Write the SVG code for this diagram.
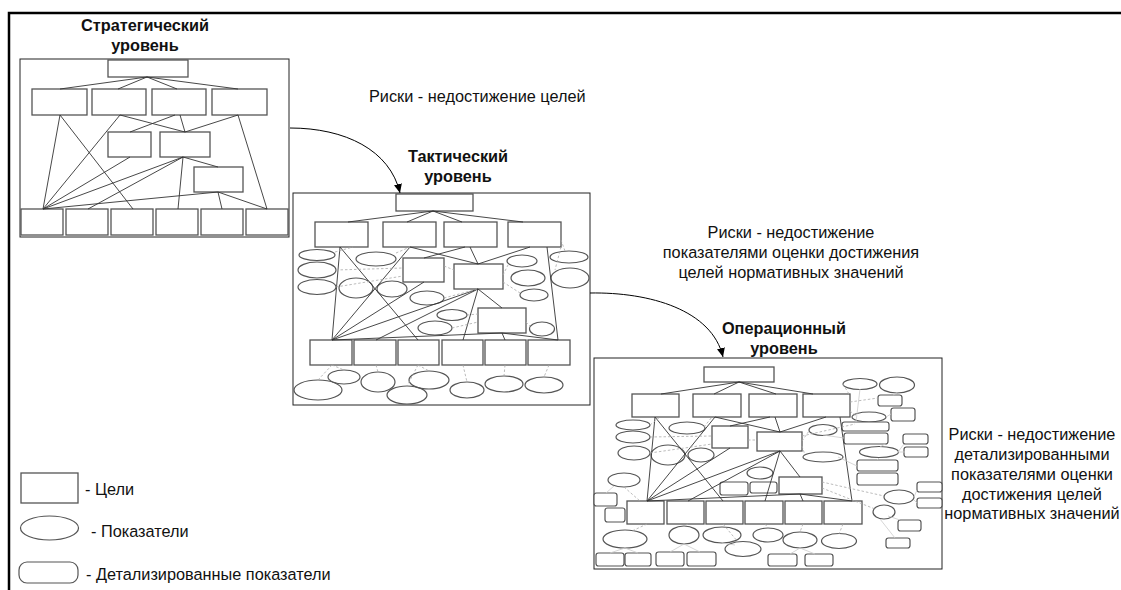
<svg xmlns="http://www.w3.org/2000/svg" width="1121" height="590" viewBox="0 0 1121 590">
<style>
.bg{fill:#fff}
.frame{fill:none;stroke:#000;stroke-width:2.5}
.panel{fill:#fff;stroke:#222;stroke-width:1}
.g{fill:#fff;stroke:#555;stroke-width:1.3}
.i{fill:none;stroke:#555;stroke-width:1.2}
.d{fill:#fff;stroke:#555;stroke-width:1.2}
.l{stroke:#333;stroke-width:0.9;fill:none}
.dl{stroke:#aaa;stroke-width:0.8;stroke-dasharray:2.5 2;fill:none}
.sl{stroke:#ccc;stroke-width:0.8;fill:none}
.arr{stroke:#000;stroke-width:1;fill:none}
.t{font-family:"Liberation Sans",Arial,sans-serif;font-size:16.3px;fill:#111}
.tb{font-family:"Liberation Sans",Arial,sans-serif;font-size:16.3px;font-weight:bold;fill:#111;text-anchor:middle}
.tc{text-anchor:middle}
</style>
<defs>
<marker id="ah" markerWidth="10" markerHeight="10" refX="9" refY="5" orient="auto" markerUnits="userSpaceOnUse">
<path d="M0,1 L9,5 L0,9 Z" fill="#000"/>
</marker>
</defs>
<rect class="bg" x="0" y="0" width="1121" height="590"/>
<path class="frame" d="M9,590 V13 H1121"/>

<!-- Strategic -->
<g id="strategic">
<rect class="panel" x="20" y="59" width="269" height="178"/>
<text class="tb" x="145" y="31">Стратегический</text>
<text class="tb" x="145" y="51">уровень</text>
<g id="s0"><rect class="g" x="108" y="60" width="80" height="17"/></g>
<g id="s1"><rect class="g" x="32" y="89" width="55" height="26"/></g>
<g id="s2"><rect class="g" x="92" y="89" width="54" height="26"/></g>
<g id="s3"><rect class="g" x="152" y="89" width="54" height="26"/></g>
<g id="s4"><rect class="g" x="212" y="89" width="55" height="26"/></g>
<g id="s5"><rect class="g" x="108" y="132" width="43" height="25"/></g>
<g id="s6"><rect class="g" x="160" y="132" width="50" height="25"/></g>
<g id="s7"><rect class="g" x="194" y="167" width="49" height="25"/></g>
<g id="sb1"><rect class="g" x="21" y="209" width="42" height="26"/></g>
<g id="sb2"><rect class="g" x="66" y="209" width="42" height="26"/></g>
<g id="sb3"><rect class="g" x="111" y="209" width="42" height="26"/></g>
<g id="sb4"><rect class="g" x="156" y="209" width="42" height="26"/></g>
<g id="sb5"><rect class="g" x="201" y="209" width="42" height="26"/></g>
<g id="sb6"><rect class="g" x="246" y="209" width="42" height="26"/></g>
</g>

<!-- Tactical -->
<g id="tactical">
<rect class="panel" x="293" y="193" width="297" height="212"/>
<g id="t0"><rect class="g" x="396" y="194" width="77" height="17"/></g>
<g id="t1"><rect class="g" x="315" y="222" width="53" height="25"/></g>
<g id="t2"><rect class="g" x="383" y="222" width="53" height="25"/></g>
<g id="t3"><rect class="g" x="444" y="222" width="53" height="25"/></g>
<g id="t4"><rect class="g" x="508" y="222" width="53" height="25"/></g>
<g id="t5"><rect class="g" x="403" y="258" width="41" height="24"/></g>
<g id="t6"><rect class="g" x="454" y="264" width="49" height="25"/></g>
<g id="t7"><rect class="g" x="478" y="308" width="48" height="25"/></g>
<g id="tb1"><rect class="g" x="310" y="340" width="42" height="25"/></g>
<g id="tb2"><rect class="g" x="354" y="340" width="42" height="25"/></g>
<g id="tb3"><rect class="g" x="398" y="340" width="41" height="25"/></g>
<g id="tb4"><rect class="g" x="442" y="340" width="41" height="25"/></g>
<g id="tb5"><rect class="g" x="485" y="340" width="41" height="25"/></g>
<g id="tb6"><rect class="g" x="528" y="340" width="42" height="25"/></g>
<g id="te1"><ellipse class="i" cx="317" cy="255" rx="18" ry="5.5"/></g>
<g id="te2"><ellipse class="i" cx="317" cy="270" rx="19" ry="8"/></g>
<g id="te3"><ellipse class="i" cx="317" cy="287" rx="19" ry="7.5"/></g>
<g id="te4"><ellipse class="i" cx="376" cy="259" rx="20" ry="7"/></g>
<g id="te5"><ellipse class="i" cx="356" cy="288" rx="17" ry="10"/></g>
<g id="te6"><ellipse class="i" cx="392" cy="289" rx="15" ry="8"/></g>
<g id="te7"><ellipse class="i" cx="427" cy="298" rx="17" ry="7"/></g>
<g id="te8"><ellipse class="i" cx="522" cy="261" rx="15" ry="6"/></g>
<g id="te9"><ellipse class="i" cx="528" cy="278" rx="17" ry="8"/></g>
<g id="te10"><ellipse class="i" cx="534" cy="295" rx="14" ry="6"/></g>
<g id="te11"><ellipse class="i" cx="569" cy="257" rx="19" ry="6"/></g>
<g id="te12"><ellipse class="i" cx="570" cy="278" rx="19" ry="10"/></g>
<g id="te13"><ellipse class="i" cx="452" cy="315" rx="15" ry="5.5"/></g>
<g id="te14"><ellipse class="i" cx="435" cy="328" rx="17" ry="7"/></g>
<g id="te15"><ellipse class="i" cx="542" cy="329" rx="12.5" ry="7"/></g>
<g id="te16"><ellipse class="i" cx="318" cy="390" rx="24" ry="10"/></g>
<g id="te17"><ellipse class="i" cx="344" cy="377" rx="16" ry="7"/></g>
<g id="te18"><ellipse class="i" cx="378" cy="382" rx="17" ry="10"/></g>
<g id="te19"><ellipse class="i" cx="407" cy="395" rx="20" ry="9"/></g>
<g id="te20"><ellipse class="i" cx="429" cy="380" rx="20" ry="9"/></g>
<g id="te21"><ellipse class="i" cx="467" cy="390" rx="17" ry="8"/></g>
<g id="te22"><ellipse class="i" cx="504" cy="384" rx="19" ry="8"/></g>
<g id="te23"><ellipse class="i" cx="544" cy="385" rx="19" ry="8"/></g>
</g>

<!-- Operational -->
<g id="operational">
<rect class="panel" x="594" y="358" width="348" height="211"/>
<g id="o0"><rect class="g" x="704" y="367" width="70" height="15"/></g>
<g id="o1"><rect class="g" x="632" y="394" width="47" height="23"/></g>
<g id="o2"><rect class="g" x="693" y="394" width="48" height="23"/></g>
<g id="o3"><rect class="g" x="749" y="394" width="48" height="23"/></g>
<g id="o4"><rect class="g" x="803" y="394" width="47" height="23"/></g>
<g id="o5"><rect class="g" x="712" y="426" width="36" height="22"/></g>
<g id="o6"><rect class="g" x="757" y="432" width="45" height="19"/></g>
<g id="o7"><rect class="g" x="779" y="477" width="43" height="17"/></g>
<g id="ob1"><rect class="g" x="627" y="501" width="37" height="23"/></g>
<g id="ob2"><rect class="g" x="667" y="501" width="37" height="23"/></g>
<g id="ob3"><rect class="g" x="706" y="501" width="37" height="23"/></g>
<g id="ob4"><rect class="g" x="745" y="501" width="38" height="23"/></g>
<g id="ob5"><rect class="g" x="785" y="501" width="37" height="23"/></g>
<g id="ob6"><rect class="g" x="824" y="501" width="38" height="23"/></g>
<g id="oe1"><ellipse class="i" cx="633" cy="425" rx="17" ry="5"/></g>
<g id="oe2"><ellipse class="i" cx="633" cy="437" rx="17" ry="6"/></g>
<g id="oe3"><ellipse class="i" cx="634" cy="453" rx="16" ry="7"/></g>
<g id="oe4"><ellipse class="i" cx="687" cy="428" rx="18" ry="6"/></g>
<g id="oe5"><ellipse class="i" cx="668" cy="455" rx="17" ry="10"/></g>
<g id="oe6"><ellipse class="i" cx="701" cy="455" rx="13" ry="7"/></g>
<g id="oe7"><ellipse class="i" cx="860" cy="384" rx="17" ry="5.5"/></g>
<g id="oe8"><ellipse class="i" cx="897" cy="385" rx="17.5" ry="8"/></g>
<g id="oe9"><ellipse class="i" cx="869" cy="417" rx="17" ry="5"/></g>
<g id="oe10"><ellipse class="i" cx="823" cy="430" rx="14" ry="5.5"/></g>
<g id="oe11"><ellipse class="i" cx="879" cy="452" rx="19.5" ry="5.5"/></g>
<g id="oe12"><ellipse class="i" cx="823" cy="457" rx="20" ry="5"/></g>
<g id="oe13"><ellipse class="i" cx="760" cy="473" rx="13" ry="6"/></g>
<g id="oe14"><ellipse class="i" cx="624" cy="480" rx="16" ry="7"/></g>
<g id="oe15"><ellipse class="i" cx="899" cy="497" rx="15" ry="7"/></g>
<g id="oe16"><ellipse class="i" cx="884" cy="512" rx="11" ry="7"/></g>
<g id="oe17"><ellipse class="i" cx="625" cy="539" rx="22" ry="9"/></g>
<g id="oe18"><ellipse class="i" cx="684" cy="535" rx="15" ry="9"/></g>
<g id="oe19"><ellipse class="i" cx="722" cy="535" rx="19" ry="8"/></g>
<g id="oe20"><ellipse class="i" cx="743" cy="549" rx="18" ry="7.5"/></g>
<g id="oe21"><ellipse class="i" cx="768" cy="535" rx="15" ry="7"/></g>
<g id="oe22"><ellipse class="i" cx="800" cy="540" rx="17" ry="8"/></g>
<g id="oe23"><ellipse class="i" cx="839" cy="541" rx="17.5" ry="7.5"/></g>
<g id="od1"><rect class="d" x="878" y="395" width="24" height="11" rx="2.5"/></g>
<g id="od2"><rect class="d" x="891" y="408" width="24" height="13" rx="2.5"/></g>
<g id="od3"><rect class="d" x="842" y="422" width="47" height="9" rx="2.5"/></g>
<g id="od4"><rect class="d" x="844" y="433" width="44" height="11" rx="2.5"/></g>
<g id="od5"><rect class="d" x="903" y="434" width="25" height="10" rx="2.5"/></g>
<g id="od6"><rect class="d" x="904" y="447" width="24" height="10" rx="2.5"/></g>
<g id="od7"><rect class="d" x="857" y="460" width="41" height="11" rx="2.5"/></g>
<g id="od8"><rect class="d" x="857" y="473" width="41" height="12" rx="2.5"/></g>
<g id="od9"><rect class="d" x="917" y="482" width="25" height="10" rx="2.5"/></g>
<g id="od10"><rect class="d" x="917" y="498" width="25" height="10" rx="2.5"/></g>
<g id="od11"><rect class="d" x="898" y="520" width="23" height="11" rx="2.5"/></g>
<g id="od12"><rect class="d" x="886" y="538" width="24" height="10" rx="2.5"/></g>
<g id="od13"><rect class="d" x="768" y="554" width="29" height="12" rx="2.5"/></g>
<g id="od14"><rect class="d" x="805" y="554" width="28" height="12" rx="2.5"/></g>
<g id="od15"><rect class="d" x="594" y="493" width="23" height="13" rx="2.5"/></g>
<g id="od16"><rect class="d" x="605" y="508" width="20" height="14" rx="2.5"/></g>
<g id="od17"><rect class="d" x="720" y="482" width="28" height="13" rx="2.5"/></g>
<g id="od18"><rect class="d" x="750" y="482" width="27" height="11" rx="2.5"/></g>
<g id="od19"><rect class="d" x="596" y="553" width="28" height="13" rx="2.5"/></g>
<g id="od20"><rect class="d" x="625" y="553" width="26" height="13" rx="2.5"/></g>
<g id="od21"><rect class="d" x="656" y="552" width="28" height="14" rx="2.5"/></g>
<g id="od22"><rect class="d" x="687" y="552" width="29" height="14" rx="2.5"/></g>
</g>

<!-- Connectors -->
<g id="connectors">
<path class="l" d="M147,77 L60,89 M147,77 L118,89 M147,77 L177,89 M147,77 L238,89
M60,115 L43,209 M60,115 L133,209 M120,115 L43,209 M120,115 L185,132
M175,115 L130,132 M180,115 L185,132 M238,115 L185,132 M238,115 L267,209
M130,157 L43,209 M183,157 L43,209 M183,157 L88,209 M183,157 L178,209 M183,157 L218,167
M218,192 L43,209 M218,192 L222,209 M218,192 L267,209"/>
<path class="l" d="M433,211 L348,222 M433,211 L407,222 M433,211 L462,222 M433,211 L523,222
M340,247 L332,340 M340,247 L418,340 M410,247 L332,340 M410,247 L478,264
M465,247 L424,258 M470,247 L478,264 M530,247 L478,264 M547,247 L558,340
M424,282 L332,340 M478,289 L332,340 M478,289 L376,340 M478,289 L463,340 M478,289 L502,308
M502,333 L332,340 M502,333 L505,340 M502,333 L558,340"/>
<path class="dl" d="M335,252 L353,247 M336,270 L403,268 M336,287 L403,276 M396,253 L410,247 M444,298 L478,289
M503,275 L509,263 M503,282 L520,293 M561,240 L565,251 M561,247 L555,270 M467,315 L478,314 M452,328 L478,322
M526,322 L530,326 M444,266 L454,270
M332,365 L318,380 M332,365 L344,370 M376,365 L378,372 M418,365 L407,386 M418,365 L429,371
M463,365 L467,382 M505,365 L504,376 M549,365 L544,377"/>
<path class="l" d="M739,382 L661,394 M739,382 L714,394 M739,382 L776,394 M739,382 L813,394
M655,417 L647,501 M655,417 L723,501 M715,417 L647,501 M715,417 L780,432
M770,417 L730,426 M775,417 L780,432 M826,417 L780,432 M840,417 L852,501
M730,448 L647,501 M780,451 L647,501 M780,451 L688,501 M780,451 L765,501 M780,451 L800,477
M800,494 L647,501 M800,494 L803,501 M800,494 L852,501"/>
<path class="dl" d="M650,425 L660,417 M650,437 L712,436 M650,453 L712,444 M704,427 L712,417 M748,440 L757,440
M802,441 L809,431 M802,446 L805,455 M850,402 L878,398 M850,411 L856,416 M802,436 L855,424
M843,384 L849,394 M822,482 L884,496 M822,488 L875,509 M624,487 L640,501
M647,524 L632,531 M688,524 L684,526 M723,524 L738,542 M765,524 L768,528 M803,524 L800,532 M843,524 L839,534"/>
<path class="sl" d="M914,497 L917,490 M914,500 L917,503 M888,516 L900,520 M880,519 L895,538 M800,548 L790,554 M800,548 L815,554
M625,548 L610,553 M625,548 L638,553 M684,544 L670,552 M684,544 L700,552 M614,486 L606,493 M897,393 L893,395
M886,417 L891,414 M880,447 L885,444 M898,452 L905,452 M898,452 L904,444 M879,458 L877,460 M838,457 L857,466
M860,389 L856,422 M823,435 L844,438 M722,543 L735,545"/>
<path class="arr" d="M290,128 C345,128 390,150 400,193" marker-end="url(#ah)"/>
<path class="arr" d="M590,293 C650,292 712,310 723,357" marker-end="url(#ah)"/>
</g>

<!-- Labels -->
<text class="t" x="369" y="102">Риски - недостижение целей</text>
<text class="tb" x="458" y="162">Тактический</text>
<text class="tb" x="458" y="182">уровень</text>
<text class="t tc" x="791" y="238">Риски - недостижение</text>
<text class="t tc" x="791" y="258">показателями оценки достижения</text>
<text class="t tc" x="791" y="278">целей нормативных значений</text>
<text class="tb" x="784" y="334">Операционный</text>
<text class="tb" x="784" y="354">уровень</text>
<text class="t tc" x="1032" y="440">Риски - недостижение</text>
<text class="t tc" x="1032" y="460">детализированными</text>
<text class="t tc" x="1032" y="480">показателями оценки</text>
<text class="t tc" x="1032" y="500">достижения целей</text>
<text class="t tc" x="1032" y="519">нормативных значений</text>

<!-- Legend -->
<g id="legend">
<g id="lg-goal"><rect class="g" x="21" y="473" width="57" height="30"/><text class="t" x="85" y="495">- Цели</text></g>
<g id="lg-ind"><ellipse class="i" cx="49.5" cy="528" rx="29" ry="12"/><text class="t" x="91" y="537">- Показатели</text></g>
<g id="lg-det"><rect class="d" x="19" y="562" width="59" height="21" rx="8"/><text class="t" x="86" y="580">- Детализированные показатели</text></g>
</g>
</svg>
